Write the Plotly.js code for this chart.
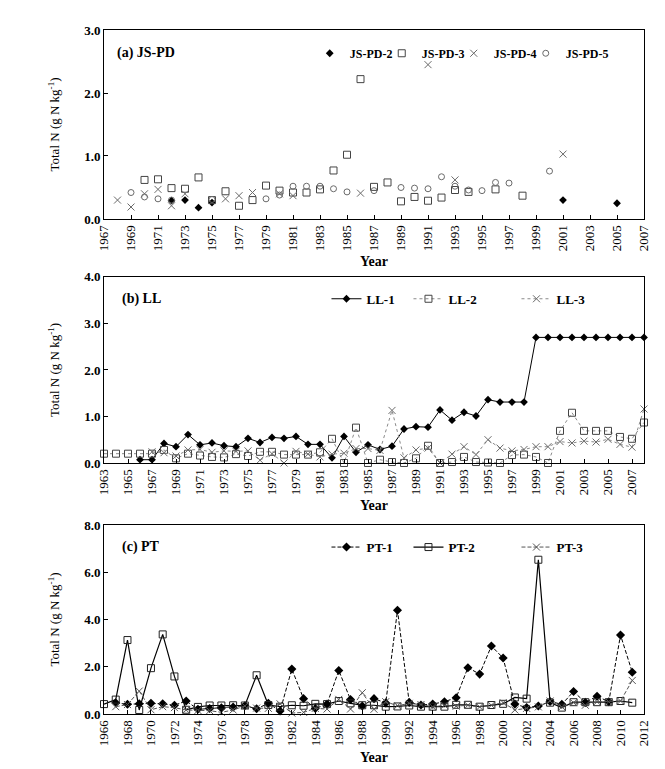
<!DOCTYPE html>
<html><head><meta charset="utf-8">
<script src="https://cdn.plot.ly/plotly-3.0.1.min.js"></script>
<style>html,body{margin:0;padding:0;background:#fff}</style>
</head><body><div id="chart" style="width:665px;height:769px"></div>
<script>
// Panel (a) JS-PD
const pd2Years=[1972,1973,1974,1975,2001,2005];
const pd2Vals=[0.29,0.30,0.18,0.26,0.30,0.25];
const pd3Years=[1970,1971,1972,1973,1974,1975,1976,1977,1978,1979,1980,1981,1982,1983,1984,1985,1986,1987,1988,1989,1990,1991,1992,1993,1994,1996,1998];
const pd3Vals=[0.62,0.63,0.49,0.48,0.66,0.30,0.44,0.21,0.30,0.53,0.45,0.42,0.42,0.47,0.77,1.02,2.22,0.51,0.58,0.28,0.35,0.29,0.34,0.46,0.43,0.47,0.37];
const pd4Years=[1968,1969,1970,1971,1972,1973,1976,1977,1978,1980,1981,1986,1991,1993,2001];
const pd4Vals=[0.30,0.19,0.40,0.47,0.21,0.40,0.32,0.37,0.42,0.40,0.37,0.41,2.45,0.62,1.03];
const pd5Years=[1969,1970,1971,1972,1975,1979,1980,1981,1982,1983,1984,1985,1987,1989,1990,1991,1992,1993,1994,1995,1996,1997,2000];
const pd5Vals=[0.42,0.35,0.32,0.30,0.31,0.32,0.38,0.52,0.52,0.52,0.48,0.43,0.45,0.50,0.49,0.48,0.67,0.52,0.46,0.45,0.58,0.57,0.76];

// Panel (b) LL
const ll1Years=[1966,1967,1968,1969,1970,1971,1972,1973,1974,1975,1976,1977,1978,1979,1980,1981,1982,1983,1984,1985,1986,1987,1988,1989,1990,1991,1992,1993,1994,1995,1996,1997,1998,1999,2000,2001,2002,2003,2004,2005,2006,2007,2008];
const ll1Vals=[0.07,0.07,0.42,0.35,0.61,0.39,0.43,0.37,0.35,0.53,0.44,0.55,0.53,0.57,0.40,0.40,0.11,0.57,0.23,0.39,0.29,0.36,0.73,0.78,0.77,1.14,0.92,1.09,1.01,1.36,1.31,1.31,1.31,2.70,2.70,2.70,2.70,2.70,2.70,2.70,2.70,2.70,2.70];
const ll2Years=[1963,1964,1965,1966,1967,1968,1969,1970,1971,1972,1973,1974,1975,1976,1977,1978,1979,1980,1981,1982,1983,1984,1985,1986,1987,1988,1989,1990,1991,1992,1993,1994,1995,1996,1997,1998,1999,2000,2001,2002,2003,2004,2005,2006,2007,2008];
const ll2Vals=[0.20,0.20,0.20,0.20,0.20,0.28,0.10,0.20,0.16,0.13,0.12,0.19,0.15,0.24,0.24,0.18,0.18,0.18,0.23,0.52,0.00,0.76,0.00,0.07,0.02,0.00,0.10,0.37,0.00,0.02,0.13,0.02,0.01,0.00,0.17,0.18,0.13,0.00,0.69,1.08,0.69,0.69,0.69,0.56,0.52,0.87];
const ll3Years=[1967,1968,1969,1970,1971,1972,1973,1974,1975,1976,1977,1978,1979,1980,1981,1982,1983,1984,1985,1986,1987,1988,1989,1990,1991,1992,1993,1994,1995,1996,1997,1998,1999,2000,2001,2002,2003,2004,2005,2006,2007,2008];
const ll3Vals=[0.24,0.22,0.15,0.28,0.29,0.23,0.26,0.25,0.26,0.06,0.20,0.00,0.25,0.19,0.13,0.19,0.21,0.31,0.31,0.27,1.13,0.11,0.28,0.32,0.00,0.19,0.35,0.18,0.50,0.32,0.26,0.29,0.35,0.35,0.46,0.43,0.47,0.45,0.51,0.40,0.34,1.16];

// Panel (c) PT
const pt1Years=[1967,1968,1969,1970,1971,1972,1973,1974,1975,1976,1977,1978,1979,1980,1981,1982,1983,1984,1985,1986,1987,1988,1989,1990,1991,1992,1993,1994,1995,1996,1997,1998,1999,2000,2001,2002,2003,2004,2005,2006,2007,2008,2009,2010,2011];
const pt1Vals=[0.47,0.41,0.43,0.45,0.43,0.37,0.55,0.20,0.23,0.26,0.29,0.35,0.22,0.45,0.13,1.90,0.65,0.23,0.42,1.84,0.61,0.34,0.65,0.47,4.39,0.49,0.38,0.42,0.52,0.69,1.96,1.69,2.88,2.37,0.42,0.27,0.34,0.53,0.41,0.95,0.49,0.75,0.52,3.34,1.77];
const pt2Years=[1966,1967,1968,1969,1970,1971,1972,1973,1974,1975,1976,1977,1978,1979,1980,1981,1982,1983,1984,1985,1986,1987,1988,1989,1990,1991,1992,1993,1994,1995,1996,1997,1998,1999,2000,2001,2002,2003,2004,2005,2006,2007,2008,2009,2010,2011];
const pt2Vals=[0.42,0.61,3.13,0.17,1.94,3.37,1.59,0.18,0.30,0.36,0.36,0.37,0.36,1.64,0.38,0.31,0.37,0.35,0.43,0.42,0.55,0.45,0.37,0.37,0.31,0.32,0.36,0.31,0.31,0.31,0.39,0.39,0.31,0.38,0.43,0.70,0.65,6.53,0.48,0.27,0.50,0.50,0.50,0.50,0.55,0.48];
const pt3Years=[1967,1968,1969,1970,1971,1972,1973,1974,1975,1976,1977,1978,1979,1980,1981,1982,1983,1984,1985,1986,1987,1988,1989,1990,1991,1992,1993,1994,1995,1996,1997,1998,1999,2000,2001,2002,2003,2004,2005,2006,2007,2008,2009,2010,2011];
const pt3Vals=[0.31,0.40,0.97,0.18,0.31,0.27,0.17,0.15,0.14,0.07,0.17,0.34,0.25,0.24,0.43,0.04,0.07,0.24,0.21,0.62,0.21,0.90,0.20,0.52,0.35,0.45,0.40,0.30,0.37,0.33,0.37,0.30,0.37,0.48,0.17,0.24,0.30,0.55,0.30,0.48,0.37,0.52,0.52,0.55,1.42];

const SERIF="Liberation Serif, Times New Roman, serif";
const darkGray='#444', midGray='#6a6a6a', lineGray='#8a8a8a';

function tr(x,y,name,xa,ya,lg,opts){
  return Object.assign({x:x,y:y,name:name,xaxis:xa,yaxis:ya,legend:lg,cliponaxis:false,type:'scatter'},opts);
}
const data=[
  tr(pd2Years,pd2Vals,'JS-PD-2','x','y','legend',{mode:'markers',legendwidth:27,marker:{symbol:'diamond',size:6,color:'#000'}}),
  tr(pd3Years,pd3Vals,'JS-PD-3','x','y','legend',{mode:'markers',legendwidth:27,marker:{symbol:'square-open',size:7,color:darkGray,line:{width:1}}}),
  tr(pd4Years,pd4Vals,'JS-PD-4','x','y','legend',{mode:'markers',legendwidth:27,marker:{symbol:'x-thin-open',size:7,color:midGray,line:{width:1,color:midGray}}}),
  tr(pd5Years,pd5Vals,'JS-PD-5','x','y','legend',{mode:'markers',legendwidth:60,marker:{symbol:'circle-open',size:6,color:midGray,line:{width:1}}}),

  tr(ll1Years,ll1Vals,'LL-1','x2','y2','legend2',{mode:'lines+markers',legendwidth:37,line:{color:'#000',width:1},marker:{symbol:'diamond',size:6,color:'#000'}}),
  tr(ll2Years,ll2Vals,'LL-2','x2','y2','legend2',{mode:'lines+markers',legendwidth:63,line:{color:lineGray,width:1,dash:'dot'},marker:{symbol:'square-open',size:7,color:darkGray,line:{width:1}}}),
  tr(ll3Years,ll3Vals,'LL-3','x2','y2','legend2',{mode:'lines+markers',legendwidth:50,line:{color:lineGray,width:1,dash:'dot'},marker:{symbol:'x-thin-open',size:7,color:midGray,line:{width:1,color:midGray}}}),

  tr(pt1Years,pt1Vals,'PT-1','x3','y3','legend3',{mode:'lines+markers',legendwidth:37,line:{color:'#000',width:1,dash:'4px,2px'},marker:{symbol:'diamond',size:7,color:'#000'}}),
  tr(pt2Years,pt2Vals,'PT-2','x3','y3','legend3',{mode:'lines+markers',legendwidth:63,line:{color:'#000',width:1.2},marker:{symbol:'square-open',size:7,color:'#222',line:{width:1}}}),
  tr(pt3Years,pt3Vals,'PT-3','x3','y3','legend3',{mode:'lines+markers',legendwidth:50,line:{color:'#555',width:1,dash:'4px,2px'},marker:{symbol:'x-thin-open',size:7,color:'#555',line:{width:1,color:'#555'}}})
];

const tickFontX={family:SERIF,size:13,color:'#000'};
const tickFontY={family:SERIF,size:13,color:'#000',weight:'bold'};
function xax(r,anchor){
  return {range:r,tick0:r[0],dtick:2,tickangle:-90,ticks:'inside',ticklen:4,tickcolor:'#000',
    showline:true,mirror:true,linecolor:'#000',linewidth:1,showgrid:false,zeroline:false,
    tickfont:tickFontX,anchor:anchor,
    title:{text:'<b>Year</b>',font:{family:SERIF,size:14,color:'#000'},standoff:6}};
}
function yax(r,dt,dom,anchor,zl){
  return {range:r,dtick:dt,tickformat:'.1f',ticks:'inside',ticklen:4,tickcolor:'#000',
    showline:true,mirror:true,linecolor:'#000',linewidth:1,showgrid:false,
    zeroline:!!zl,zerolinecolor:'#888',zerolinewidth:2,
    tickfont:tickFontY,domain:dom,anchor:anchor,
    title:{text:'Total N (g N kg<sup>-1</sup>)',font:{family:SERIF,size:13,color:'#000'},standoff:21}};
}
function lg(x,y,fs){
  return {x:x,y:y,xanchor:'left',yanchor:'middle',orientation:'h',itemwidth:30,
    bgcolor:'rgba(0,0,0,0)',font:{family:SERIF,size:fs,color:'#000',weight:'bold'}};
}
const layout={
  width:665,height:769,paper_bgcolor:'#fff',plot_bgcolor:'#fff',
  margin:{l:104,r:21,t:30,b:55},
  font:{family:SERIF,color:'#000'},
  showlegend:true,
  xaxis:xax([1967,2007],'y'),
  yaxis:yax([0,3],1,[0.7237,1],'x',false),
  xaxis2:xax([1963,2008],'y2'),
  yaxis2:yax([0,4],1,[0.367,0.639],'x2',true),
  xaxis3:xax([1966,2012],'y3'),
  yaxis3:yax([0,8],2,[0,0.2763],'x3',false),
  legend:lg(0.381,0.966,12),
  legend2:lg(0.412,0.607,13),
  legend3:lg(0.412,0.244,13),
  annotations:[
    {text:'<b>(a) JS-PD</b>',xref:'paper',yref:'paper',x:0.02,y:0.966,xanchor:'left',yanchor:'middle',showarrow:false,font:{family:SERIF,size:14,color:'#000'}},
    {text:'<b>(b) LL</b>',xref:'paper',yref:'paper',x:0.03,y:0.607,xanchor:'left',yanchor:'middle',showarrow:false,font:{family:SERIF,size:14,color:'#000'}},
    {text:'<b>(c) PT</b>',xref:'paper',yref:'paper',x:0.03,y:0.244,xanchor:'left',yanchor:'middle',showarrow:false,font:{family:SERIF,size:14,color:'#000'}}
  ]
};
Plotly.newPlot('chart',data,layout,{displayModeBar:false,staticPlot:true});
</script></body></html>
